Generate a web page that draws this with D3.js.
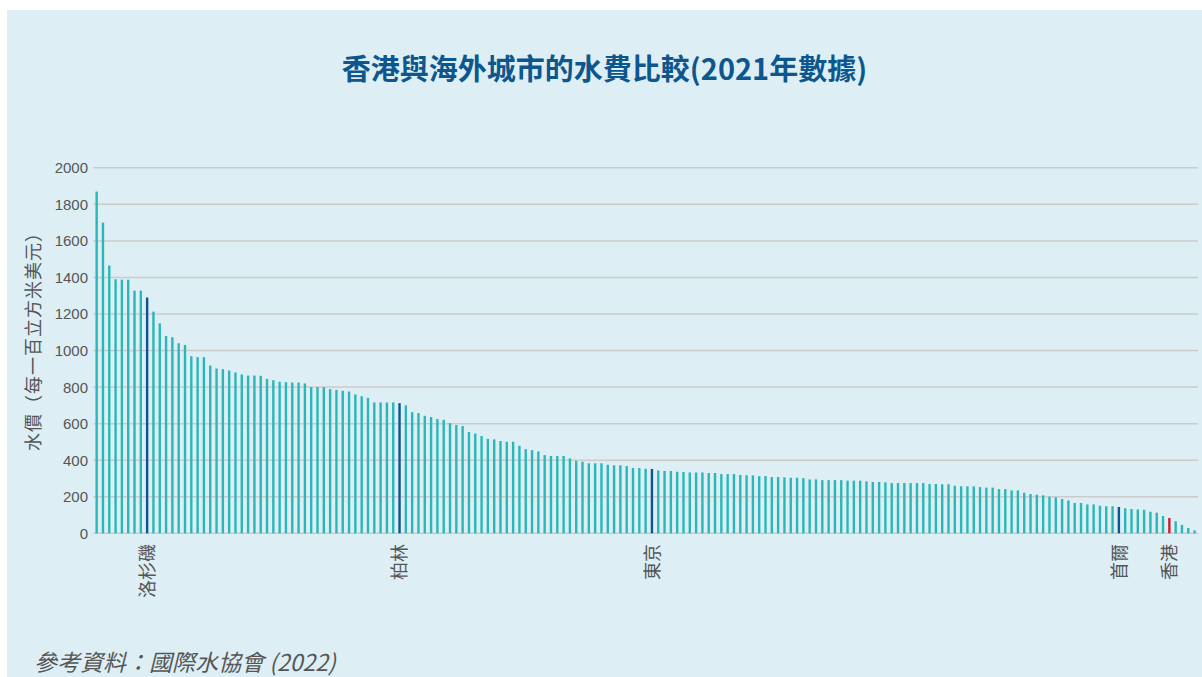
<html>

<head>
    <title>水費比較</title>
    <meta charset="utf-8">
    <style>
        body { margin: 0; background: #fff; }
        .grid line { stroke: #cbcbcb; stroke-width: 1.5px; }
        .ticks text { font-family: "Liberation Sans", Arial, sans-serif; font-size: 15px; fill: #555; }
        .cjk { font-family: "Noto Sans CJK TC", "Noto Sans", sans-serif; }
    </style>
</head>

<body>
    <svg width="1202" height="677"></svg>
    <script src="https://d3js.org/d3.v7.min.js"></script>

    <script>
        // water price, USD per 100 m3, sorted high to low (IWA 2022, 2021 data)
        var prices = [
            1870, 1700, 1465, 1390, 1388, 1388, 1328, 1328, 1290, 1213,
            1149, 1080, 1073, 1040, 1031, 969, 964, 964, 918, 902,
            898, 891, 880, 869, 863, 863, 862, 845, 838, 829,
            827, 825, 825, 820, 800, 800, 800, 789, 785, 780,
            776, 760, 750, 741, 716, 716, 716, 716, 712, 700,
            663, 658, 643, 636, 625, 621, 603, 592, 587, 554,
            546, 532, 517, 514, 505, 501, 501, 479, 461, 455,
            448, 428, 423, 423, 423, 410, 397, 392, 383, 383,
            383, 375, 372, 372, 368, 357, 357, 353, 352, 344,
            341, 341, 337, 335, 333, 333, 333, 330, 330, 324,
            324, 324, 319, 317, 317, 313, 313, 308, 308, 306,
            304, 304, 302, 295, 295, 291, 291, 291, 291, 288,
            288, 288, 284, 281, 281, 279, 275, 275, 275, 275,
            275, 275, 270, 270, 268, 268, 260, 257, 257, 257,
            253, 250, 250, 242, 242, 235, 235, 222, 215, 211,
            208, 200, 197, 188, 180, 166, 166, 158, 158, 151,
            148, 148, 144, 137, 133, 131, 129, 118, 113, 95,
            84, 66, 46, 29, 16
        ];
        var cityIndex = [8, 48, 88, 162, 170];
        var cityNames = ["洛杉磯", "柏林", "東京", "首爾", "香港"];
        var yTicks = [0, 200, 400, 600, 800, 1000, 1200, 1400, 1600, 1800, 2000];

        var svg = d3.select("svg");

        svg.append("rect")
            .attr("x", 7).attr("y", 10)
            .attr("width", 1195).attr("height", 667)
            .attr("fill", "#ddeff5");

        var x = d3.scaleBand()
            .domain(d3.range(prices.length))
            .range([93.5, 1197.75])
            .paddingInner(0.62)
            .paddingOuter(0.31);

        var y = d3.scaleLinear()
            .domain([0, 2000])
            .range([533.3, 167.8]);

        svg.append("g")
            .attr("class", "grid")
            .selectAll("line")
            .data(yTicks)
            .enter().append("line")
            .attr("x1", 93.3).attr("x2", 1198)
            .attr("y1", function (d) { return y(d); })
            .attr("y2", function (d) { return y(d); });

        svg.append("g")
            .attr("class", "ticks")
            .selectAll("text")
            .data(yTicks)
            .enter().append("text")
            .attr("x", 88)
            .attr("y", function (d) { return y(d); })
            .attr("dy", "0.36em")
            .attr("text-anchor", "end")
            .text(function (d) { return d; });

        function barColor(i) {
            var k = cityIndex.indexOf(i);
            if (k < 0) return "#2bb7b8";
            return cityNames[k] == "香港" ? "#c8202e" : "#0c5494";
        }

        svg.append("g")
            .selectAll("rect")
            .data(prices)
            .enter().append("rect")
            .attr("x", function (d, i) { return x(i); })
            .attr("width", x.bandwidth())
            .attr("y", function (d) { return y(d); })
            .attr("height", function (d) { return y(0) - y(d); })
            .attr("fill", function (d, i) { return barColor(i); });

        svg.append("g")
            .selectAll("text")
            .data(cityIndex)
            .enter().append("text")
            .attr("class", "cjk")
            .attr("transform", function (d) {
                return "translate(" + (x(d) + x.bandwidth() / 2) + ",544) rotate(-90)";
            })
            .attr("dy", "0.38em")
            .attr("text-anchor", "end")
            .attr("font-size", 18)
            .attr("fill", "#555")
            .text(function (d, i) { return cityNames[i]; });

        svg.append("text")
            .attr("class", "cjk")
            .attr("transform", "translate(34,337) rotate(-90)")
            .attr("dy", "0.36em")
            .attr("text-anchor", "middle")
            .attr("font-size", 18)
            .attr("letter-spacing", 1)
            .attr("fill", "#555")
            .text("水價（每一百立方米美元）");

        svg.append("text")
            .attr("class", "cjk")
            .attr("x", 604.5).attr("y", 80)
            .attr("text-anchor", "middle")
            .attr("font-size", 29)
            .attr("font-weight", "bold")
            .attr("fill", "#0e568e")
            .text("香港與海外城市的水費比較(2021年數據)");

        svg.append("text")
            .attr("class", "cjk")
            .attr("x", 34).attr("y", 671)
            .attr("font-size", 23)
            .attr("font-style", "italic")
            .attr("fill", "#555")
            .text("參考資料：國際水協會 (2022)");
    </script>

</body>

</html>
